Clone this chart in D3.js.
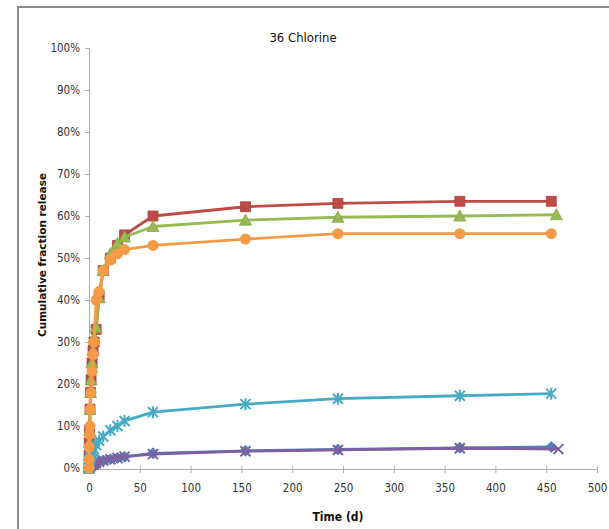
<!DOCTYPE html>
<html><head><meta charset="utf-8">
<script src="https://cdn.jsdelivr.net/npm/d3@7"></script>
<style>body{margin:0;background:#fff}svg{display:block}</style>
</head><body>
<svg id="c" width="609" height="529"></svg>
<script>
const title = "36 Chlorine";
const xLabel = "Time (d)";
const yLabel = "Cumulative fraction release";
const xTicks = [0,50,100,150,200,250,300,350,400,450,500];
const yTicks = [0,0.1,0.2,0.3,0.4,0.5,0.6,0.7,0.8,0.9,1.0];

const times = [0,0.1,0.25,0.5,1,1.5,2,3,4,5,7,10,14,21,28,35,63,154,245,365,455];
const timesGreen = [0,0.1,0.25,0.5,1,1.5,2,3,4,5,7,10,14,21,28,35,63,154,245,365,460];
const timesPurple = [0,0.1,0.25,0.5,1,1.5,2,3,4,5,7,10,14,21,28,35,63,154,245,365,462];

const blueVals   = [0,0.001,0.002,0.003,0.004,0.005,0.006,0.008,0.009,0.010,0.012,0.015,0.018,0.021,0.024,0.027,0.035,0.041,0.044,0.048,0.050];
const redVals    = [0,0.03,0.06,0.09,0.14,0.18,0.21,0.25,0.28,0.30,0.33,0.41,0.47,0.50,0.53,0.555,0.60,0.622,0.63,0.635,0.635];
const greenVals  = [0,0.03,0.06,0.09,0.14,0.18,0.21,0.25,0.28,0.31,0.335,0.405,0.47,0.51,0.535,0.55,0.575,0.59,0.597,0.60,0.603];
const purpleVals = [0,0.001,0.002,0.003,0.004,0.005,0.006,0.008,0.009,0.010,0.012,0.015,0.018,0.021,0.024,0.027,0.033,0.040,0.043,0.047,0.045];
const cyanVals   = [0,0.005,0.01,0.015,0.02,0.025,0.03,0.035,0.04,0.045,0.055,0.065,0.075,0.09,0.10,0.112,0.133,0.152,0.165,0.172,0.177];
const orangeVals = [0,0.02,0.05,0.08,0.10,0.14,0.18,0.23,0.27,0.30,0.40,0.42,0.47,0.495,0.51,0.52,0.53,0.545,0.558,0.558,0.558];

const series = [
  {t: times, v: blueVals, color: "#4F81BD", marker: "diamond"},
  {t: times, v: redVals, color: "#BE4B48", marker: "square"},
  {t: timesGreen, v: greenVals, color: "#98B954", marker: "triangle"},
  {t: timesPurple, v: purpleVals, color: "#7D60A0", marker: "x"},
  {t: times, v: cyanVals, color: "#46AAC5", marker: "star"},
  {t: times, v: orangeVals, color: "#F59A46", marker: "circle"},
];

const svg = d3.select("#c");
const x = d3.scaleLinear().domain([0,500]).range([89,597]);
const y = d3.scaleLinear().domain([0,1]).range([468,48]);

// frame
svg.append("path").attr("d","M18,529V7H609").attr("fill","none").attr("stroke","#8a8a8a").attr("stroke-width",2);

const font = "'DejaVu Sans Condensed',Arial,sans-serif";

// y axis
const ya = svg.append("g").attr("transform","translate(89,0)")
  .call(d3.axisLeft(y).tickValues(yTicks).tickFormat(d3.format(".0%")).tickSize(4).tickPadding(5));
ya.select(".domain").attr("stroke","#b0b0b0");
ya.selectAll(".tick line").attr("stroke","#b0b0b0");
ya.selectAll("text").attr("font-family",font).attr("font-size",11.5).attr("fill","#333");

// x axis
const xa = svg.append("g").attr("transform","translate(0,469)")
  .call(d3.axisBottom(x).tickValues(xTicks).tickSize(4).tickSizeOuter(0).tickPadding(11));
xa.select(".domain").attr("stroke","#b0b0b0");
xa.selectAll(".tick line").attr("stroke","#b0b0b0").attr("y1",-3);
xa.selectAll("text").attr("font-family",font).attr("font-size",11.5).attr("fill","#333");

// titles
svg.append("text").attr("x",303).attr("y",42).attr("text-anchor","middle")
  .attr("font-family",font).attr("font-size",13).attr("fill","#111").text(title);
svg.append("text").attr("x",338).attr("y",521).attr("text-anchor","middle")
  .attr("font-family",font).attr("font-weight","bold").attr("font-size",12).attr("fill","#111").text(xLabel);
svg.append("text").attr("transform","translate(46,255) rotate(-90)").attr("text-anchor","middle")
  .attr("font-family","'DejaVu Sans',Verdana,sans-serif").attr("font-weight","bold").attr("font-size",10.5).attr("fill","#111").text(yLabel);

const line = d3.line().x(d=>x(d[0])).y(d=>y(d[1]));

function markerPath(type){
  switch(type){
    case "diamond": return "M0,-5.5L5.5,0L0,5.5L-5.5,0Z";
    case "square": return "M-5,-5H5V5H-5Z";
    case "triangle": return "M0,-6L6,5H-6Z";
    case "x": return "M-5,-5L5,5M5,-5L-5,5";
    case "star": return "M-5,-5L5,5M5,-5L-5,5M0,-6V6";
  }
}

series.forEach(s=>{
  const pts = s.t.map((t,i)=>[t,s.v[i]]);
  svg.append("path").datum(pts).attr("d",line).attr("fill","none")
    .attr("stroke",s.color).attr("stroke-width",2.8).attr("stroke-linejoin","round");
  const g = svg.append("g");
  pts.forEach(p=>{
    if(s.marker==="circle"){
      g.append("circle").attr("cx",x(p[0])).attr("cy",y(p[1])).attr("r",5.5).attr("fill",s.color);
    } else if(s.marker==="x"||s.marker==="star"){
      g.append("path").attr("transform",`translate(${x(p[0])},${y(p[1])})`).attr("d",markerPath(s.marker))
        .attr("fill","none").attr("stroke",s.color).attr("stroke-width",2);
    } else {
      g.append("path").attr("transform",`translate(${x(p[0])},${y(p[1])})`).attr("d",markerPath(s.marker))
        .attr("fill",s.color).attr("stroke",d3.color(s.color).darker(0.3)).attr("stroke-width",0.8);
    }
  });
});
</script>
</body></html>
